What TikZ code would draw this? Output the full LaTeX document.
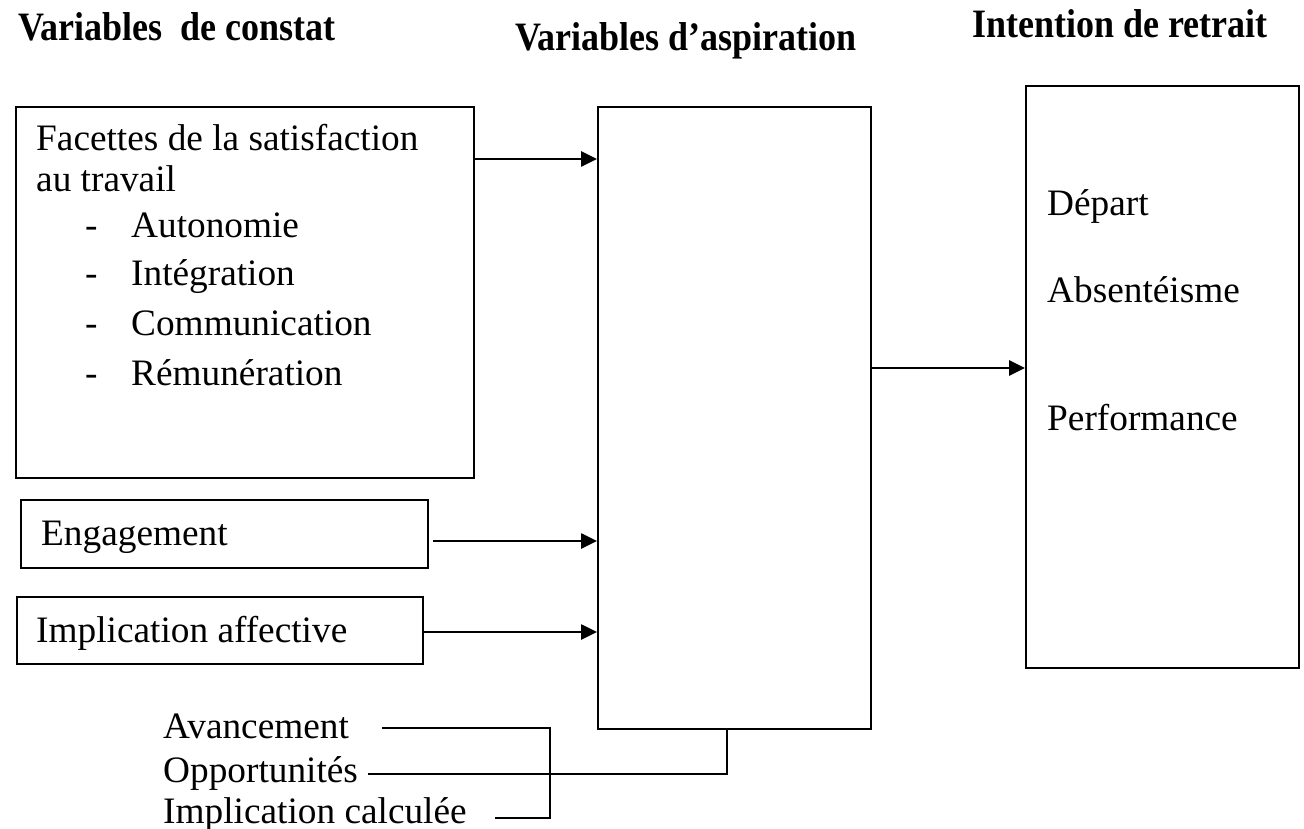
\documentclass[tikz,border=0pt]{standalone}
\usepackage{fontspec}
\setmainfont{Liberation Serif}
\usetikzlibrary{arrows.meta}
\newcommand{\tallhead}[1]{\scalebox{1}[1.12]{#1}}
\begin{document}
\begin{tikzpicture}[x=1pt,y=-1pt,
  box/.style={draw,line width=2pt,inner sep=0pt,anchor=north west},
  lbl/.style={anchor=base west,inner sep=0pt,font=\fontsize{37.3}{40}\selectfont},
  ttl/.style={anchor=base west,inner sep=0pt,font=\fontsize{36}{40}\selectfont\bfseries},
  arr/.style={line width=2.6pt,-{Triangle[length=16pt,width=15pt]}},
  lnk/.style={line width=2.4pt}]
\useasboundingbox (0,0) rectangle (1304,829);

% column headings
\node[ttl] (t1) at (18,41) {\tallhead{Variables\ \ de constat}};
\node[ttl] (t2) at (515,51) {\tallhead{Variables d’aspiration}};
\node[ttl] (t3) at (972,38) {\tallhead{Intention de retrait}};

% boxes
\node[box,minimum width=458pt,minimum height=371pt] (fac) at (15,106) {};
\node[box,minimum width=407pt,minimum height=68pt] (eng) at (20,499) {};
\node[box,minimum width=406pt,minimum height=67pt] (imp) at (16,596) {};
\node[box,minimum width=273pt,minimum height=622pt] (mid) at (597,106) {};
\node[box,minimum width=273pt,minimum height=582pt] (ret) at (1025,85) {};

% texts of the first box
\node[lbl] (f1) at (36,151) {Facettes de la satisfaction};
\node[lbl] (f2) at (36,192) {au travail};
\node[lbl] (d1) at (85,237) {-};
\node[lbl] (i1) at (131,237) {Autonomie};
\node[lbl] (d2) at (85,285) {-};
\node[lbl] (i2) at (131,285) {Intégration};
\node[lbl] (d3) at (85,335) {-};
\node[lbl] (i3) at (131,335) {Communication};
\node[lbl] (d4) at (85,385) {-};
\node[lbl] (i4) at (131,385) {Rémunération};

\node[lbl] (engt) at (41,545) {Engagement};
\node[lbl] (impt) at (36,642) {Implication affective};

% outcomes
\node[lbl] (o1) at (1047,216) {Départ};
\node[lbl] (o2) at (1047,302) {Absentéisme};
\node[lbl] (o3) at (1047,430) {Performance};

% bottom list
\node[lbl] (b1) at (163,738) {Avancement};
\node[lbl] (b2) at (163,782) {Opportunités};
\node[lbl] (b3) at (163,823) {Implication calculée};

% arrows
\coordinate (y1) at (0,159);
\coordinate (y2) at (0,541);
\coordinate (y3) at (0,632);
\coordinate (y4) at (0,368);
\draw[arr] (fac.east |- y1) -- (mid.west |- y1);
\draw[arr] ([xshift=4pt]eng.east |- y2) -- (mid.west |- y2);
\draw[arr] (imp.east |- y3) -- (mid.west |- y3);
\draw[arr] (mid.east |- y4) -- (ret.west |- y4);

% bracket joining the bottom list to the middle box
\coordinate (la) at (382,728);
\coordinate (lb) at (368,774);
\coordinate (lc) at (495,818);
\coordinate (bx) at (550,728);
\coordinate (st) at (727,774);
\draw[lnk] (la) -- (bx) -- (bx |- lc) -- (lc);
\draw[lnk] (lb) -- (st) -- (st |- mid.south);
\end{tikzpicture}
\end{document}
